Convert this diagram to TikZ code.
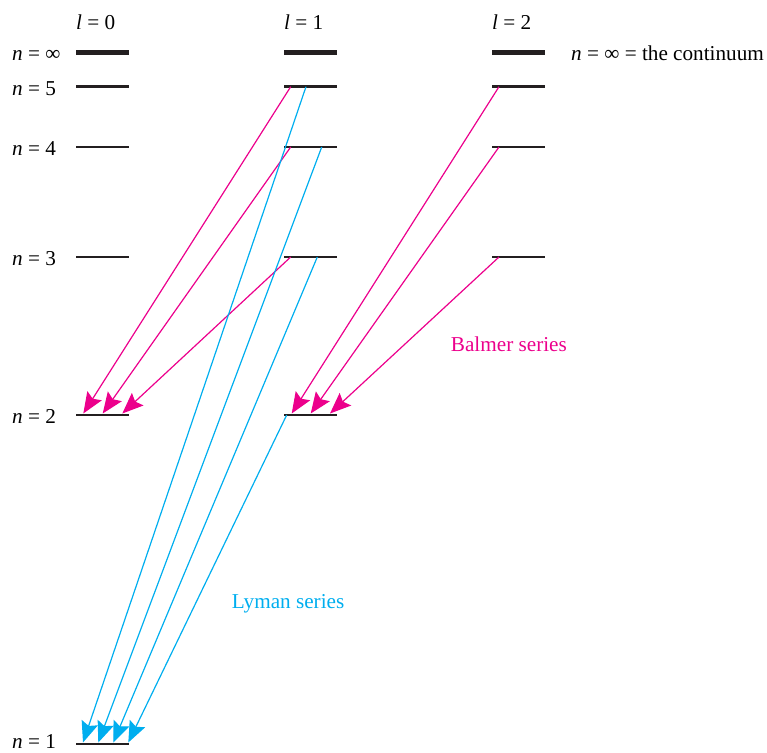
\documentclass[tikz,border=0pt]{standalone}
\usepackage{fontspec}
\setmainfont{Liberation Serif}
\usetikzlibrary{arrows.meta}
\definecolor{mag}{RGB}{236,0,140}
\definecolor{cyn}{RGB}{0,174,239}
\definecolor{lev}{RGB}{35,31,32}
\begin{document}
\begin{tikzpicture}[x=1pt,y=1pt,
  level/.style={draw=lev, line width=2.6pt},
  contlevel/.style={draw=lev, line width=4.5pt},
  lbl/.style={anchor=base west, inner sep=0pt, font=\fontsize{21.2}{25}\selectfont},
  tipshape/.style={-{Stealth[length=21pt,width=17pt,inset=3.5pt,line join=miter]}},
  balmer/.style={draw=mag, line width=1.2pt, tipshape},
  lyman/.style={draw=cyn, line width=1.2pt, tipshape}]
\useasboundingbox (0,0) rectangle (767,-752);
% level coordinates
\foreach \c/\x in {0/76,1/284,2/492}{
  \foreach \n/\y in {i/52.3,5/86.7,4/147,3/257}{
    \coordinate (c\c n\n w) at (\x,-\y);
    \coordinate (c\c n\n e) at (\x+52.5,-\y);
  }
}
\coordinate (c0n2w) at (76,-415);  \coordinate (c0n2e) at (128.5,-415);
\coordinate (c1n2w) at (284,-415); \coordinate (c1n2e) at (336.5,-415);
\coordinate (c0n1w) at (76,-744);  \coordinate (c0n1e) at (128.5,-744);
% level lines
\foreach \c in {0,1,2}{
  \draw[contlevel] (c\c niw) -- (c\c nie);
  \foreach \n in {5,4,3}{ \draw[level] (c\c n\n w) -- (c\c n\n e); }
}
\draw[level] (c0n2w) -- (c0n2e);
\draw[level] (c1n2w) -- (c1n2e);
\draw[level] (c0n1w) -- (c0n1e);
% Balmer start/end points
\coordinate (b1s5) at (290.7,-86.7);
\coordinate (b1s4) at (290.7,-147);
\coordinate (b1s3) at (290.7,-257);
\coordinate (b0e5) at (83.3,-413.5);
\coordinate (b0e4) at (102.7,-413.5);
\coordinate (b0e3) at (122.3,-413.5);
\coordinate (b2s5) at (499,-86.7);
\coordinate (b2s4) at (499,-147);
\coordinate (b2s3) at (499,-257);
\coordinate (b1e5) at (291.7,-413.5);
\coordinate (b1e4) at (310.7,-413.5);
\coordinate (b1e3) at (330,-413.5);
% Lyman start/end points
\coordinate (ls5) at (306,-86.7);
\coordinate (ls4) at (321.7,-147);
\coordinate (ls3) at (317.3,-257);
\coordinate (ls2) at (286.7,-415);
\coordinate (le5) at (83,-742.5);
\coordinate (le4) at (98.3,-742.5);
\coordinate (le3) at (113.3,-742.5);
\coordinate (le2) at (128.3,-742.5);
% arrows
\draw[balmer] (b1s5) -- (b0e5);
\draw[balmer] (b1s4) -- (b0e4);
\draw[balmer] (b1s3) -- (b0e3);
\draw[balmer] (b2s5) -- (b1e5);
\draw[balmer] (b2s4) -- (b1e4);
\draw[balmer] (b2s3) -- (b1e3);
\draw[lyman] (ls5) -- (le5);
\draw[lyman] (ls4) -- (le4);
\draw[lyman] (ls3) -- (le3);
\draw[lyman] (ls2) -- (le2);
% labels
\node[lbl] (t0) at (76,-30) {\textit{l} = 0};
\node[lbl] (t1) at (284,-30) {\textit{l} = 1};
\node[lbl] (t2) at (492,-30) {\textit{l} = 2};
\node[lbl] (ninf) at (12,-60) {\textit{n} = ∞};
\node[lbl] (n5) at (12,-95) {\textit{n} = 5};
\node[lbl] (n4) at (12,-155.5) {\textit{n} = 4};
\node[lbl] (n3) at (12,-265.5) {\textit{n} = 3};
\node[lbl] (n2) at (12,-423.5) {\textit{n} = 2};
\node[lbl] (n1) at (12,-748) {\textit{n} = 1};
\node[lbl] (cont) at (571,-60) {\textit{n} = ∞ = the continuum};
\node[lbl, text=mag] (bal) at (450.7,-351.7) {Balmer series};
\node[lbl, text=cyn] (lym) at (231.7,-608.3) {Lyman series};
\end{tikzpicture}
\end{document}
